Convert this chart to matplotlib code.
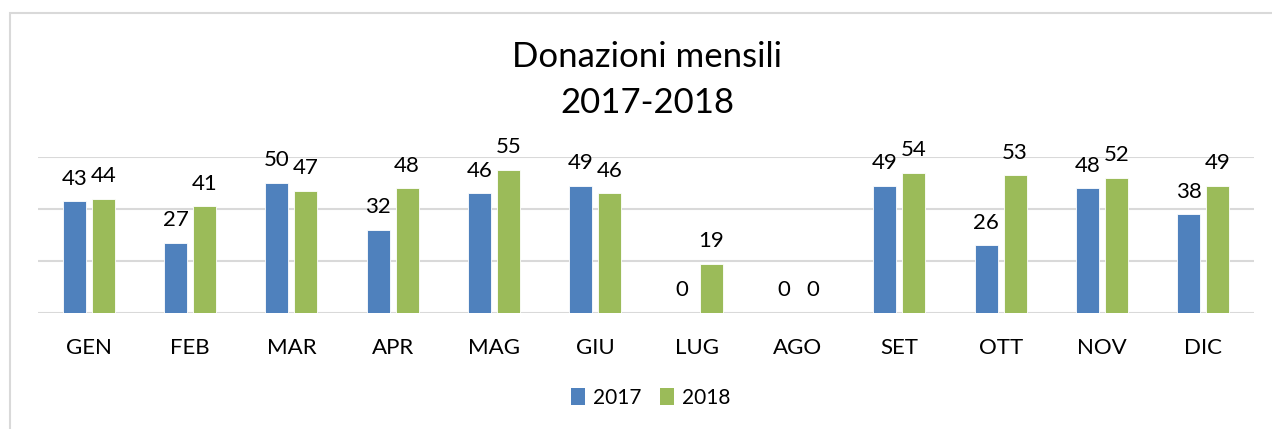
import matplotlib
matplotlib.use("Agg")
import matplotlib.pyplot as plt
import numpy as np
from matplotlib.patches import Patch, Rectangle

plt.rcParams['font.family'] = ['Lato', 'DejaVu Sans']

months = ["GEN", "FEB", "MAR", "APR", "MAG", "GIU", "LUG", "AGO", "SET", "OTT", "NOV", "DIC"]
series_names = ["2017", "2018"]
values_2017 = [43, 27, 50, 32, 46, 49, 0, 0, 49, 26, 48, 38]
values_2018 = [44, 41, 47, 48, 55, 46, 19, 0, 54, 53, 52, 49]
title_lines = ["Donazioni mensili", "2017-2018"]

colors = ["#4F81BD", "#9BBB59"]

W, H = 1272, 429
fig = plt.figure(figsize=(W / 100, H / 100), dpi=100)
ax = fig.add_axes([38 / W, 116 / H, (1254 - 38) / W, 156 / H])

x = np.arange(len(months))
bw = 0.227
off = 0.143
for vals, c, sgn in [(values_2017, colors[0], -1), (values_2018, colors[1], 1)]:
    ax.bar(x + sgn * off, vals, width=bw, color=c, edgecolor="white", linewidth=0.6, zorder=3)
    for xi, v in zip(x + sgn * off, vals):
        ax.annotate(str(v), (xi, v), xytext=(0, 9), textcoords="offset points",
                    ha="center", va="bottom", fontsize=16, color="#000000")

ax.set_xlim(-0.5, len(months) - 0.5)
ax.set_ylim(0, 60)
ax.set_yticks([0, 20, 40, 60])
ax.yaxis.grid(True, color="#D9D9D9", linewidth=1.5, zorder=0)
ax.set_axisbelow(True)
ax.tick_params(axis="y", left=False, labelleft=False)
ax.tick_params(axis="x", length=0, pad=18, labelsize=16)
ax.set_xticks(x)
ax.set_xticklabels(months)
for s in ax.spines.values():
    s.set_visible(False)
ax.set_facecolor("none")

fig.text(647 / W, 1 - 57 / H, title_lines[0], ha="center", va="center", fontsize=25)
fig.text(647 / W, 1 - 103 / H, title_lines[1], ha="center", va="center", fontsize=25)

handles = [Patch(facecolor=c, edgecolor="none") for c in colors]
fig.legend(handles, series_names, loc="center", bbox_to_anchor=(651 / W, 1 - 398 / H),
           ncol=2, frameon=False, fontsize=15, handlelength=0.65, handleheight=0.9,
           handletextpad=0.4, columnspacing=0.9)

border = Rectangle((10 / W, -0.2), 1.5, (429 - 13) / H + 0.2, transform=fig.transFigure,
                   fill=False, edgecolor="#D9D9D9", linewidth=1.5)
fig.patches.append(border)

fig.savefig("out.png", dpi=100)
